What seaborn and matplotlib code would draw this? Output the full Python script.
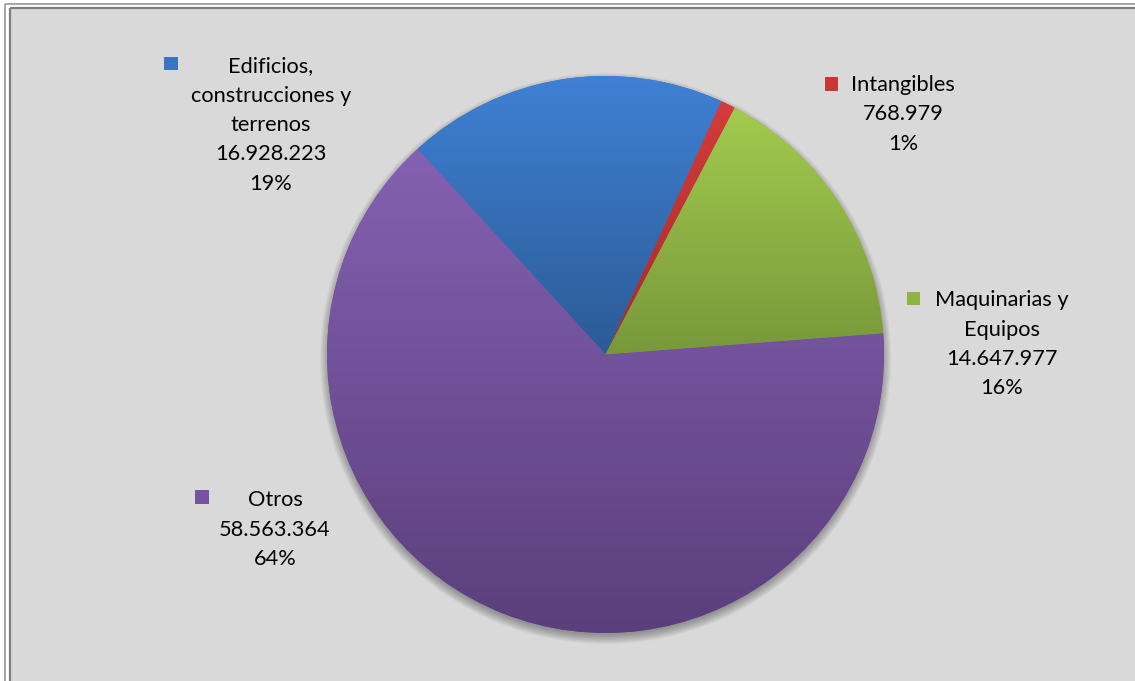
import numpy as np
import matplotlib
matplotlib.use("Agg")
import matplotlib.pyplot as plt
from matplotlib.patches import Rectangle, Circle
import seaborn as sns

# ---- data ----
categories = ["Edificios,\nconstrucciones y\nterrenos", "Intangibles", "Maquinarias y\nEquipos", "Otros"]
values = [16928223, 768979, 14647977, 58563364]
top_colors = ["#3f81d4", "#d53c3b", "#a2cb4e", "#8461b2"]
bottom_colors = ["#2c5b96", "#a52a2a", "#78983a", "#5b3f7c"]
key_colors = ["#3a74c0", "#c83636", "#8fb444", "#7553a0"]

sns.set_theme(style="white")
plt.rcParams['font.family'] = ['Lato', 'DejaVu Sans']

W, H = 1135, 681
fig = plt.figure(figsize=(W / 100, H / 100), dpi=100, facecolor="white")
ax = fig.add_axes([0, 0, 1, 1])
ax.set_facecolor("white")

def py(y):
    return H - y

# chart area background and border
ax.add_patch(Rectangle((10, py(H + 10)), W + 10, H + 2, facecolor="#d9d9d9", edgecolor="none", zorder=0))
ax.plot([5, 5], [py(4), -10], color="#a6a6a6", lw=1.4, zorder=1, solid_capstyle="butt")
ax.plot([5, W + 10], [py(4), py(4)], color="#a6a6a6", lw=1.4, zorder=1, solid_capstyle="butt")
ax.plot([9.5, 9.5], [py(8), -10], color="#7f7f7f", lw=1.6, zorder=1, solid_capstyle="butt")
ax.plot([9.5, W + 10], [py(8), py(8)], color="#7f7f7f", lw=1.6, zorder=1, solid_capstyle="butt")

cx, cy, R = 605.5, py(354.5), 278.5

# soft shadow
for k in range(10):
    ax.add_patch(Circle((cx, cy - 4), R + 7 - k, facecolor="black", edgecolor="none", alpha=0.035, zorder=2))

total = sum(values)
frac0 = values[0] / total * 360
start = 90 - (24.6 - frac0)

wedges, _ = ax.pie(values, colors=key_colors, startangle=start, counterclock=False,
                   radius=R, center=(cx, cy), wedgeprops=dict(linewidth=0), frame=True)

for w, tc, bc in zip(wedges, top_colors, bottom_colors):
    w.set_zorder(3)
    ext = w.get_path().get_extents()
    t = np.linspace(0, 1, 256)[:, None]
    c0 = np.array(matplotlib.colors.to_rgb(bc))
    c1 = np.array(matplotlib.colors.to_rgb(tc))
    img = (c0[None, None, :] * (1 - t[..., None]) + c1[None, None, :] * t[..., None])
    img = np.repeat(img, 2, axis=1)
    im = ax.imshow(img, extent=(ext.x0, ext.x1, ext.y0, ext.y1), origin="lower",
                   aspect="auto", zorder=4, interpolation="bilinear")
    im.set_clip_path(w)

# labels
label_pos = [(271, 66), (903, 85), (1002, 300), (275, 500)]
key_pos = [(171, 63.5), (831.5, 84), (913.5, 298.5), (202, 497)]
step = 29.5
fs = 15.7
for cat, v, kc, (lx, ly), (kx, ky) in zip(categories, values, key_colors, label_pos, key_pos):
    pct = f"{round(100 * v / total)}%"
    lines = cat.split("\n") + [f"{v:,}".replace(",", "."), pct]
    for i, ln in enumerate(lines):
        ax.text(lx, py(ly + i * step), ln, ha="center", va="center", fontsize=fs,
                color="#000000", zorder=6)
    s = 13.5
    ax.add_patch(Rectangle((kx - s / 2, py(ky) - s / 2), s, s, facecolor=kc, edgecolor="none", zorder=6))

ax.set_xlim(0, W)
ax.set_ylim(0, H)
ax.set_aspect("auto")
ax.axis("off")
fig.savefig("out.png", dpi=100, facecolor="white")
